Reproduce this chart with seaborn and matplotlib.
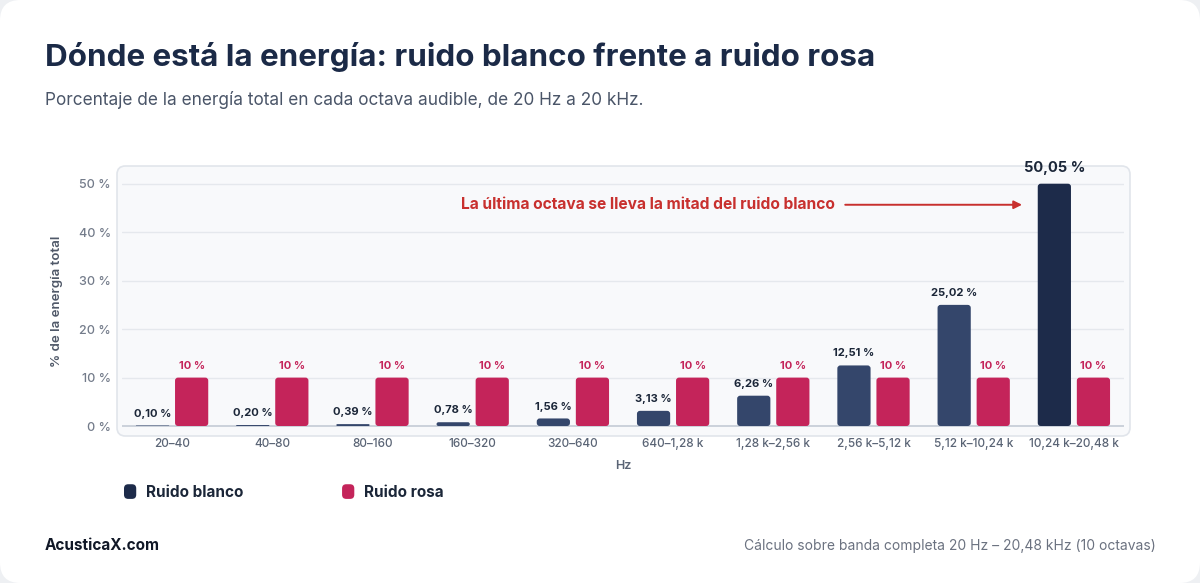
import numpy as np
import pandas as pd
import seaborn as sns
import matplotlib.pyplot as plt
from matplotlib.patches import FancyBboxPatch
from matplotlib.legend_handler import HandlerPatch

# data
octavas = ["20–40", "40–80", "80–160", "160–320", "320–640", "640–1,28 k",
           "1,28 k–2,56 k", "2,56 k–5,12 k", "5,12 k–10,24 k", "10,24 k–20,48 k"]
blanco = [0.10, 0.20, 0.39, 0.78, 1.56, 3.13, 6.26, 12.51, 25.02, 50.05]
rosa = [10, 10, 10, 10, 10, 10, 10, 10, 10, 10]
series = ["Ruido blanco", "Ruido rosa"]

NAVY = "#34466b"
NAVY_DARK = "#1d2b4a"
PINK = "#c4245a"
TITLE_C = "#1b2a47"

df = pd.DataFrame({
    "octava": octavas * 2,
    "valor": blanco + rosa,
    "serie": [series[0]] * len(octavas) + [series[1]] * len(octavas),
})

sns.set_style("white")
plt.rcParams["font.family"] = ["Inter", "DejaVu Sans"]

fig = plt.figure(figsize=(12, 5.83), dpi=100, facecolor="#eef0f3")

# white card with rounded corners
card = FancyBboxPatch((0.0, 0.0), 1.0, 1.0, boxstyle="round,pad=0,rounding_size=0.017",
                      mutation_aspect=1200 / 583, transform=fig.transFigure,
                      facecolor="white", edgecolor="none", zorder=-10)
fig.patches.append(card)

# plot panel background
panel = FancyBboxPatch((117 / 1200, 1 - 436 / 583), (1130 - 117) / 1200, (436 - 166) / 583,
                       boxstyle="round,pad=0,rounding_size=0.007", mutation_aspect=1200 / 583,
                       transform=fig.transFigure, facecolor="#f8f9fb", edgecolor="#e1e5eb",
                       linewidth=1.2, zorder=-5)
fig.patches.append(panel)

ax = fig.add_axes([122 / 1200, 1 - 435.2 / 583, (1124 - 122) / 1200, (435.2 - 167) / 583])
ax.set_facecolor("none")

sns.barplot(data=df, x="octava", y="valor", hue="serie", order=octavas, hue_order=series,
            palette=[NAVY, PINK], width=0.78, gap=0.15, saturation=1, ax=ax,
            legend=True, errorbar=None)

ax.set_ylim(-1.9, 53.5)
ax.set_xlim(-0.5, 9.5)
for s in ax.spines.values():
    s.set_visible(False)

# grid lines + baseline
for v in [10, 20, 30, 40, 50]:
    ax.axhline(v, color="#e5e8ed", linewidth=1, zorder=0)
ax.axhline(0, color="#cbd1db", linewidth=1.4, zorder=1)

ax.set_yticks([0, 10, 20, 30, 40, 50])
ax.set_yticklabels([f"{v} %" for v in [0, 10, 20, 30, 40, 50]])
ax.tick_params(axis="y", length=0, pad=8, labelsize=9, labelcolor="#737b8a")
ax.tick_params(axis="x", length=0, pad=2, labelsize=8.5, labelcolor="#5a6475")
for t in ax.get_yticklabels() + ax.get_xticklabels():
    t.set_fontweight("medium")

ax.set_ylabel("% de la energía total", fontsize=9.5, color="#4f5868", fontweight="semibold", labelpad=11)
ax.set_xlabel("Hz", fontsize=9, color="#5a6475", fontweight="semibold", labelpad=7)

# round the bars and add value labels
n = len(octavas)
aspect = 20.7
bars = list(ax.patches)[:2 * n]
for i, bar in enumerate(bars):
    x, y = bar.get_x(), bar.get_y()
    w, h = bar.get_width(), bar.get_height()
    color = bar.get_facecolor()
    if i == n - 1:
        color = NAVY_DARK
    r = min(0.03, h / aspect / 2)
    rb = FancyBboxPatch((x, y), w, h, boxstyle=f"round,pad=0,rounding_size={r}",
                        mutation_aspect=aspect, facecolor=color, edgecolor="none", zorder=2)
    bar.set_visible(False)
    ax.add_patch(rb)
    if i < n:
        val = blanco[i]
        txt = f"{val:.2f} %".replace(".", ",")
        big = i == n - 1
        ax.annotate(txt, (x + w / 2, h), xytext=(0, 5 if not big else 6), textcoords="offset points",
                    ha="center", va="bottom", fontsize=10.5 if big else 8, fontweight="bold",
                    color="#1b2638")
    else:
        val = rosa[i - n]
        ax.annotate(f"{val} %", (x + w / 2, h), xytext=(0, 5), textcoords="offset points",
                    ha="center", va="bottom", fontsize=8, fontweight="bold", color=PINK)

# callout
ax.annotate("", xy=(8.51, 45.7), xytext=(6.69, 45.7),
            arrowprops=dict(arrowstyle="-|>", color="#c8302e", lw=1.4, mutation_scale=12))
ax.text(6.61, 45.7, "La última octava se lleva la mitad del ruido blanco", ha="right", va="center",
        fontsize=11.2, fontweight="bold", color="#c8302e")

# legend below the chart
class RoundHandler(HandlerPatch):
    def create_artists(self, legend, orig, xdescent, ydescent, width, height, fontsize, trans):
        p = FancyBboxPatch((-xdescent, -ydescent), width, height,
                           boxstyle="round,pad=0,rounding_size=3",
                           facecolor=orig.get_facecolor(), edgecolor="none", transform=trans)
        return [p]

handles, labels = ax.get_legend_handles_labels()
ax.get_legend().remove()
handles[0].set_facecolor(NAVY_DARK)
leg = fig.legend(handles, labels, loc="center left", bbox_to_anchor=(124 / 1200, 1 - 492 / 583),
                 ncol=2, frameon=False, borderpad=0, borderaxespad=0, handlelength=0.8,
                 handleheight=1.1, handletextpad=0.65, columnspacing=6.45,
                 handler_map={h: RoundHandler() for h in handles},
                 prop={"size": 11, "weight": "bold"})
for t in leg.get_texts():
    t.set_color("#1b2638")

# titles and footer
fig.text(45 / 1200, 1 - 57 / 583, "Dónde está la energía: ruido blanco frente a ruido rosa",
         fontsize=22.6, fontweight="bold", color=TITLE_C, va="center", ha="left")
fig.text(45 / 1200, 1 - 100 / 583, "Porcentaje de la energía total en cada octava audible, de 20 Hz a 20 kHz.",
         fontsize=12.4, color="#4a5568", va="center", ha="left")
fig.text(45 / 1200, 1 - 546 / 583, "AcusticaX.com", fontsize=11, fontweight="bold",
         color="#111827", va="center", ha="left")
fig.text(1156 / 1200, 1 - 546 / 583, "Cálculo sobre banda completa 20 Hz – 20,48 kHz (10 octavas)",
         fontsize=10, color="#6b7280", va="center", ha="right")

fig.savefig("out.png", dpi=100, facecolor=fig.get_facecolor())
